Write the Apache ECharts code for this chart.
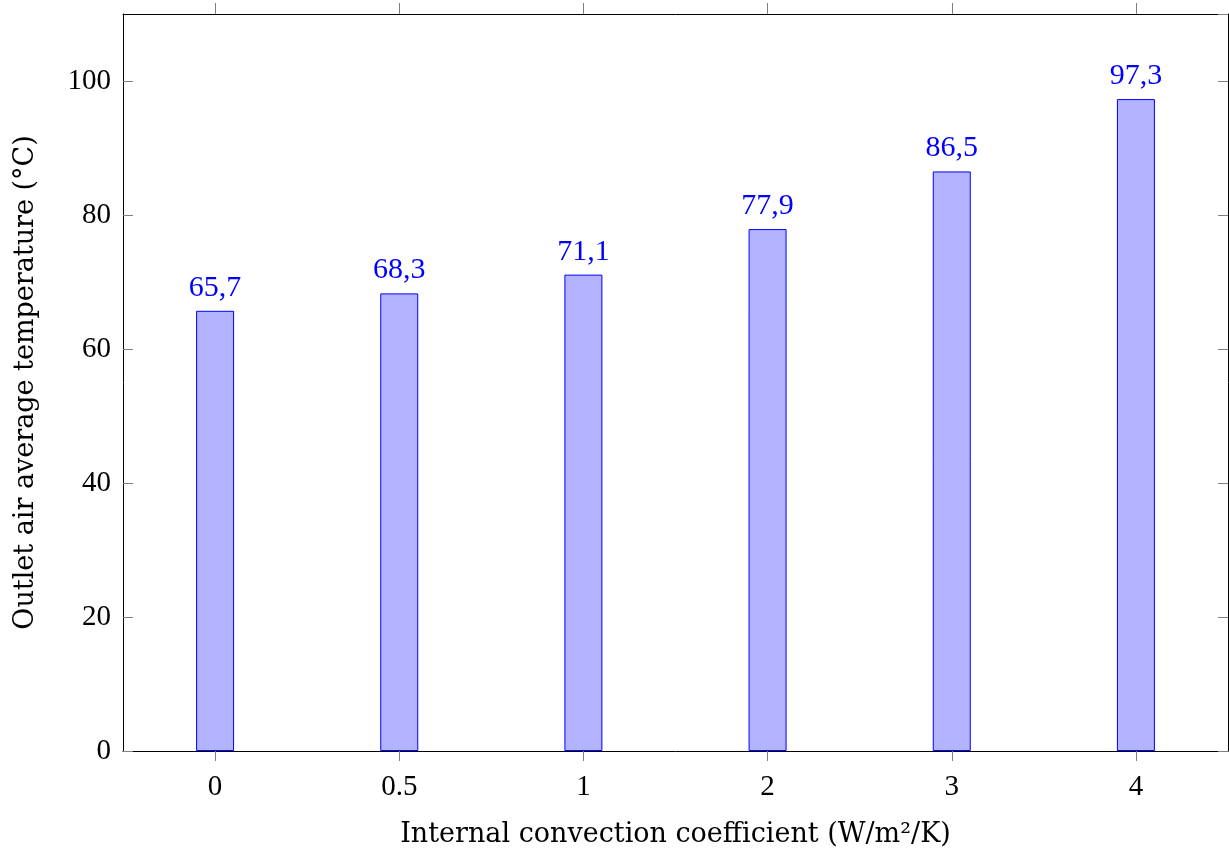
<!DOCTYPE html>
<html>
<head>
<meta charset="utf-8">
<script src="https://cdn.jsdelivr.net/npm/echarts@6/dist/echarts.min.js"></script>
<style>
  html, body { margin: 0; padding: 0; background: #fff; }
  #chart { width: 1229px; height: 850px; }
</style>
</head>
<body>
<div id="chart"></div>
<script>
const categories = ['0', '0.5', '1', '2', '3', '4'];
const temperatures = [65.7, 68.3, 71.1, 77.9, 86.5, 97.3];
const yTicks = [0, 20, 40, 60, 80, 100];

const font = 'Liberation Serif';
const nameFont = 'DejaVu Serif';
const tickColor = '#808080';

const chart = echarts.init(document.getElementById('chart'));

chart.setOption({
  animation: false,
  grid: { left: 123, right: 1, top: 14, bottom: 99, outerBoundsMode: 'none' },
  xAxis: [
    {
      type: 'category',
      data: categories,
      position: 'bottom',
      boundaryGap: true,
      axisLine: { onZero: false, lineStyle: { color: '#000', width: 1 } },
      axisTick: { show: true, alignWithLabel: true, inside: false, length: 10, lineStyle: { color: tickColor } },
      axisLabel: { fontFamily: font, fontSize: 29, color: '#000', margin: 22 },
      name: 'Internal convection coefficient (W/m²/K)',
      nameLocation: 'middle',
      nameGap: 70,
      nameTextStyle: { fontFamily: nameFont, fontSize: 27, color: '#000' }
    },
    {
      type: 'category',
      data: categories,
      position: 'top',
      boundaryGap: true,
      axisLine: { onZero: false, lineStyle: { color: '#000', width: 1 } },
      axisTick: { show: true, alignWithLabel: true, inside: false, length: 11, lineStyle: { color: tickColor } },
      axisLabel: { show: false }
    }
  ],
  yAxis: [
    {
      type: 'value',
      min: 0,
      max: 110,
      interval: 20,
      position: 'left',
      splitLine: { show: false },
      axisLine: { show: true, onZero: false, lineStyle: { color: '#000', width: 1 } },
      axisTick: { show: true, inside: true, length: 10, lineStyle: { color: tickColor } },
      axisLabel: {
        fontFamily: font, fontSize: 29, color: '#000', margin: 12,
        showMaxLabel: false,
        formatter: v => (yTicks.includes(v) ? String(v) : '')
      },
      name: 'Outlet air average temperature (°C)',
      nameLocation: 'middle',
      nameGap: 84,
      nameTextStyle: { fontFamily: nameFont, fontSize: 27, color: '#000' }
    },
    {
      type: 'value',
      min: 0,
      max: 110,
      interval: 20,
      position: 'right',
      splitLine: { show: false },
      axisLine: { show: true, onZero: false, lineStyle: { color: '#000', width: 1 } },
      axisTick: { show: true, inside: true, length: 10, lineStyle: { color: tickColor } },
      axisLabel: { show: false }
    }
  ],
  series: [
    {
      type: 'bar',
      data: temperatures,
      xAxisIndex: 0,
      yAxisIndex: 0,
      barWidth: 38,
      itemStyle: { color: '#b3b3ff', borderColor: '#0000ff', borderWidth: 1 },
      label: {
        show: true,
        position: 'top',
        distance: 8,
        fontFamily: font,
        fontSize: 30,
        color: '#0000ff',
        formatter: p => p.value.toFixed(1).replace('.', ',')
      }
    }
  ]
});
</script>
</body>
</html>
